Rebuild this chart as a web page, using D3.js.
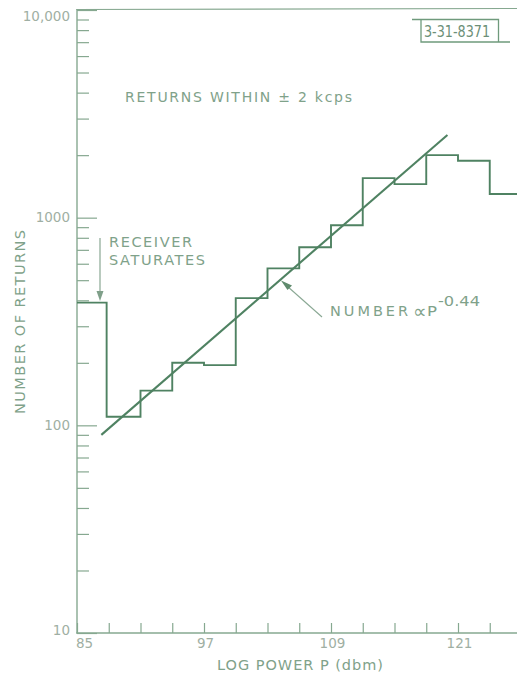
<!DOCTYPE html>
<html><head><meta charset="utf-8">
<script src="https://cdn.jsdelivr.net/npm/d3@7"></script>
<style>
html,body{margin:0;padding:0;background:#fff;}
svg{display:block;}
text{font-family:"DejaVu Sans",sans-serif;}
</style></head>
<body>
<svg id="chart" width="517" height="675"></svg>
<script>
// ---- data ----
const binEdges = [85, 87.8, 91, 94, 97, 100, 103, 106, 109, 112, 115, 118, 121, 124, 127]; // dBm
const returnCounts = [390, 110, 147, 200, 195, 410, 570, 720, 920, 1550, 1450, 2000, 1880, 1300];
const fitPower = [87.3, 120.0];
const fitCount = [90, 2500];
const xTickValues = [85, 88, 91, 94, 97, 100, 103, 106, 109, 112, 115, 118, 121, 124];
const xTickLabels = [85, 97, 109, 121];
const yMajorTicks = [10, 100, 1000, 10000];
const yTickLabels = ["10", "100", "1000", "10,000"];

// ---- styles ----
const axisColor = "#86a890";
const lineColor = "#4f8262";
const textColor = "#7fa28a";
const tickTextColor = "#9fafa3";

const svg = d3.select("#chart");
const x = d3.scaleLinear().domain([85, 121]).range([77, 458]);
const y = d3.scaleLog().domain([10, 10000]).range([633, 10]);

// minor y ticks
const yMinor = [];
for (let d = 10; d < 10000; d *= 10) for (let k = 1; k <= 9; k++) yMinor.push(d * k);
yMinor.push(10000);

// y axis (ticks inside)
const yAxis = d3.axisLeft(y).tickValues(yMinor).tickSize(-12).tickPadding(7)
  .tickFormat(d => { const i = yMajorTicks.indexOf(d); return i >= 0 ? yTickLabels[i] : ""; });
const gy = svg.append("g").attr("transform", "translate(77,0)").call(yAxis);
gy.select(".domain").remove();
gy.selectAll(".tick line").attr("stroke", axisColor).attr("stroke-width", 1.2)
  .attr("x2", d => yMajorTicks.includes(d) ? 20 : 12);
gy.selectAll(".tick text").attr("fill", tickTextColor).attr("font-size", 13.5)
  .attr("font-family", "DejaVu Sans")
  .attr("dy", d => d === 10000 ? "0.75em" : (d === 10 ? "0.1em" : "0.32em"));

// x axis (ticks upward)
const xAxis = d3.axisBottom(x).tickValues(xTickValues).tickSize(-10).tickPadding(5)
  .tickFormat(d => xTickLabels.includes(d) ? String(d) : "");
const gx = svg.append("g").attr("transform", "translate(0,633)").call(xAxis);
gx.select(".domain").remove();
gx.selectAll(".tick line").attr("stroke", axisColor).attr("stroke-width", 1.2);
gx.selectAll(".tick text").attr("fill", tickTextColor).attr("font-size", 13.5)
  .attr("font-family", "DejaVu Sans")
  .attr("dx", d => d === 85 ? 7 : 1);

// frame: left axis, bottom axis, top line
svg.append("line").attr("x1", 77).attr("x2", 77).attr("y1", 9).attr("y2", 633.5)
  .attr("stroke", axisColor).attr("stroke-width", 1.4);
svg.append("line").attr("x1", 76.3).attr("x2", 517).attr("y1", 633).attr("y2", 633)
  .attr("stroke", axisColor).attr("stroke-width", 1.4);
svg.append("line").attr("x1", 76.3).attr("x2", 517).attr("y1", 9.5).attr("y2", 8.5)
  .attr("stroke", axisColor).attr("stroke-width", 1.2);

// histogram (step)
const histPts = returnCounts.map((c, i) => [binEdges[i], c]);
histPts.push([binEdges[binEdges.length - 1], returnCounts[returnCounts.length - 1]]);
const stepLine = d3.line().x(d => x(d[0])).y(d => y(d[1])).curve(d3.curveStepAfter);
svg.append("path").datum(histPts).attr("d", stepLine)
  .attr("fill", "none").attr("stroke", lineColor).attr("stroke-width", 1.9);

// fit line
const fitPts = fitPower.map((p, i) => [p, fitCount[i]]);
svg.append("path").datum(fitPts).attr("d", d3.line().x(d => x(d[0])).y(d => y(d[1])))
  .attr("fill", "none").attr("stroke", lineColor).attr("stroke-width", 2.1);

// ---- annotations ----
function label(txt, x0, yc, w, size, color, adj) {
  const t = svg.append("text").attr("x", x0).attr("y", yc).attr("dy", "0.35em")
    .attr("font-size", size).attr("fill", color || textColor).text(txt);
  if (w) t.attr("textLength", w).attr("lengthAdjust", adj || "spacing");
  return t;
}
label("RETURNS WITHIN \u00B1 2 kcps", 125, 97, 227, 14);
label("RECEIVER", 109, 242, 83, 14.5);
label("SATURATES", 109, 260, 96, 14.5);

// receiver arrow
svg.append("line").attr("x1", 100).attr("x2", 100).attr("y1", 238).attr("y2", 293)
  .attr("stroke", "#7f9f89").attr("stroke-width", 1.1);
svg.append("path").attr("d", "M96.5,291 L103.5,291 L100,301 Z").attr("fill", "#7f9f89");

// number annotation
label("NUMBER", 330, 311, 78, 14.5);
svg.append("text").attr("x", 413).attr("y", 311).attr("dy", "0.35em").attr("font-size", 19)
  .attr("fill", textColor).text("\u221D");
label("P", 427, 311, 10, 14.5, null, "spacingAndGlyphs");
label("-0.44", 438, 301, 42, 13.5, null, "spacingAndGlyphs");
svg.append("line").attr("x1", 322).attr("y1", 317).attr("x2", 287).attr("y2", 286)
  .attr("stroke", "#8aa894").attr("stroke-width", 1.1);
svg.append("path").attr("d", "M281,280.5 L292,285.5 L287.5,290 Z").attr("fill", "#5f8a6d");

// identification box
const boxColor = "#6f9a7c";
svg.append("path").attr("d", "M412,19.5 H498.5 V41.5 M421,19.5 V42 H510")
  .attr("fill", "none").attr("stroke", boxColor).attr("stroke-width", 1.3);
svg.append("text").attr("x", 424).attr("y", 31.5).attr("dy", "0.35em").attr("font-size", 15)
  .attr("font-family", "'DejaVu Sans Condensed','DejaVu Sans',sans-serif")
  .attr("fill", "#6c8f77").attr("textLength", 66).attr("lengthAdjust", "spacingAndGlyphs")
  .text("3-31-8371");

// axis titles
svg.append("text").attr("x", 300).attr("y", 665).attr("dy", "0.35em").attr("text-anchor", "middle")
  .attr("font-size", 14.5).attr("fill", textColor).attr("textLength", 166)
  .attr("lengthAdjust", "spacing").text("LOG POWER P (dbm)");
svg.append("text").attr("transform", "translate(20,322) rotate(-90)").attr("dy", "0.35em")
  .attr("text-anchor", "middle").attr("font-size", 14.5).attr("fill", textColor)
  .attr("textLength", 184).attr("lengthAdjust", "spacing").text("NUMBER OF RETURNS");
</script>
</body></html>
